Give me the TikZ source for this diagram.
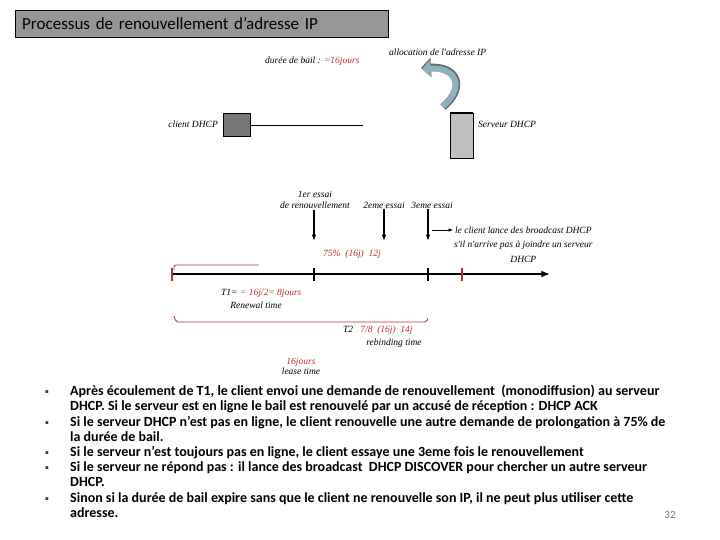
\documentclass[tikz,border=0pt]{standalone}
\usepackage{fontspec}
\setmainfont{Carlito}
\newfontfamily\handfont{Liberation Serif}
\newfontfamily\symfont{DejaVu Sans}
\usetikzlibrary{arrows.meta,positioning,calc}
\definecolor{titlegray}{RGB}{150,150,150}
\definecolor{clientgray}{RGB}{118,118,118}
\definecolor{servergray}{RGB}{192,192,192}
\definecolor{leasered}{RGB}{185,45,50}
\definecolor{allocblue}{RGB}{140,178,192}
\tikzset{
  hand/.style={font=\handfont\itshape\fontsize{9.5}{11.5}\selectfont,inner sep=1pt,align=center},
  handred/.style={hand,text=leasered},
  tryarrow/.style={-{Latex[length=2.2mm,width=1.6mm]},line width=1.3pt},
  redline/.style={draw=leasered,line width=0.8pt},
  bulletdot/.style={font=\symfont\fontsize{5.5}{6}\selectfont,inner sep=0pt,text=black!80},
  bullettext/.style={font=\bfseries\fontsize{14}{15}\selectfont,inner sep=0pt,anchor=north west,align=left}
}
\begin{document}
\begin{tikzpicture}[x=1pt,y=-1pt]
  \useasboundingbox (0,0) rectangle (720,540);

  % title
  \node[draw,fill=titlegray,anchor=north west,minimum width=373pt,minimum height=27pt,
        text width=359pt,align=left,font=\fontsize{17}{19}\selectfont] (title) at (15,10)
    {Processus de renouvellement d'adresse IP};

  % client and server
  \node[draw,fill=clientgray,anchor=north west,minimum width=27pt,minimum height=23pt,inner sep=0pt] (client) at (223,113) {};
  \node[hand,left=4pt of client] (clientlbl) {client DHCP};
  \coordinate (linkend) at (363,125);
  \draw[line width=0.8pt] (client.east |- linkend) -- (linkend);

  \node[draw,fill=servergray,anchor=north west,minimum width=23pt,minimum height=45pt,inner sep=0pt] (server) at (450,113) {};
  \draw[line width=1.8pt] (server.north west) -- (server.north east);
  \node[hand,anchor=west] (serverlbl) at (477,124) {Serveur DHCP};

  \node[hand,anchor=west] (bail) at (264,61) {durée de bail : \textcolor{leasered}{=16jours}};
  \node[hand,anchor=west] (alloc) at (388,52) {allocation de l'adresse IP};
  \draw[line width=7.5pt,draw=black!60,-{Triangle[length=10pt,width=19pt]}]
    (443,107) .. controls (466,88) and (458,66) .. (421,68);
  \draw[line width=6pt,draw=allocblue,-{Triangle[length=8.5pt,width=16.5pt]}]
    (442.6,106.4) .. controls (465,88) and (457,67) .. (422,69);

  % timeline
  \coordinate (t0) at (172,274);
  \coordinate (tend) at (550,274);
  \draw[line width=2.2pt,-{Latex[length=3mm,width=2.4mm]}] (t0) -- (tend);
  \foreach \tx/\tc in {172/leasered,462/leasered,314/black,428/black}
    \draw[draw=\tc,line width=1.2pt] (\tx,268) -- (\tx,281);
  \draw[redline,rounded corners=2pt] (174,270) -- (174,265) -- (259,265);

  % essais
  \node[hand] (essai1) at (315,200) {1er essai\\de renouvellement};
  \node[hand] (essai2) at (384,205) {2eme essai};
  \node[hand] (essai3) at (432,205) {3eme essai};
  \coordinate (a1) at (314,241);
  \coordinate (a2) at (384,241);
  \coordinate (a3) at (428,241);
  \draw[tryarrow] (essai1.south -| a1) -- (a1);
  \draw[tryarrow] (essai2.south -| a2) -- (a2);
  \draw[tryarrow] (essai3.south -| a3) -- (a3);
  \node[hand,anchor=west,font=\handfont\itshape\fontsize{9.5}{14.5}\selectfont] (bcast) at (453,244.5)
    {le client lance des broadcast DHCP\\s'il n'arrive pas à joindre un serveur\\DHCP};
  \draw[-{Latex[length=1.5mm]},line width=0.5pt] (432,230) -- (bcast.west |- 432,230);
  \node[handred] (pct) at (352,254) {75\%~~(16j)~~12j};

  % below the timeline
  \node[hand,anchor=west] (t1lbl) at (220,293) {T1= \textcolor{leasered}{= 16j/2= 8jours}};
  \node[hand] (renew) at (256,305) {Renewal time};
  \draw[redline,rounded corners=2pt] (174,316) -- (176,322) -- (427,322) -- (428,318);
  \node[hand,anchor=west] (t2lbl) at (342,330) {T2~~~\textcolor{leasered}{7/8~~(16j)~~14j}};
  \node[hand] (rebind) at (394,343) {rebinding time};
  \node[handred] (lease) at (301,362) {16jours};
  \node[hand,below=-1pt of lease] (leaselbl) {lease time};

  % text
  \foreach \by/\bn in {392/1,423/2,453/3,468/4,499/5}
    \node[bulletdot] (dot\bn) at (47,\by) {▪};
  \node[bullettext] (txt1) at (70,385)
    {Après écoulement de T1, le client envoi une demande de renouvellement~ (monodiffusion) au serveur\\
     DHCP. Si le serveur est en ligne le bail est renouvelé par un accusé de réception : DHCP ACK};
  \node[bullettext] (txt2) at (70,416)
    {Si le serveur DHCP n'est pas en ligne, le client renouvelle une autre demande de prolongation à 75\% de\\
     la durée de bail.};
  \node[bullettext] (txt3) at (70,446)
    {Si le serveur n'est toujours pas en ligne, le client essaye une 3eme fois le renouvellement};
  \node[bullettext] (txt4) at (70,461)
    {Si le serveur ne répond pas : il lance des broadcast~ DHCP DISCOVER pour chercher un autre serveur\\
     DHCP.};
  \node[bullettext] (txt5) at (70,492)
    {Sinon si la durée de bail expire sans que le client ne renouvelle son IP, il ne peut plus utiliser cette\\
     adresse.};
  \node[font=\fontsize{11}{12}\selectfont,text=black!55] (pagenum) at (670,515) {32};
\end{tikzpicture}
\end{document}
